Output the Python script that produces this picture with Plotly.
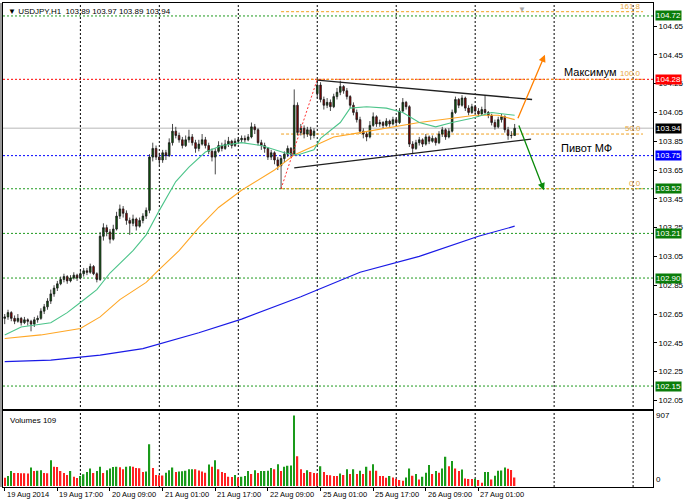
import plotly.graph_objects as go
import pandas as pd

# ---------------- data ----------------
symbol = "USDJPY,H1"

open_ = [102.62,102.63,102.66,102.62,102.60,102.62,102.59,102.61,102.60,102.58,
         102.61,102.62,102.67,102.70,102.74,102.79,102.83,102.86,102.89,102.91,
         102.88,102.90,102.92,102.90,102.93,102.95,102.94,102.98,102.93,102.89,
         103.19,103.25,103.22,103.17,103.24,103.33,103.38,103.35,103.30,103.28,
         103.31,103.26,103.30,103.33,103.37,103.74,103.80,103.74,103.72,103.77,
         103.75,103.84,103.92,103.89,103.86,103.82,103.86,103.88,103.84,103.80,
         103.83,103.86,103.82,103.78,103.74,103.78,103.82,103.80,103.83,103.85,
         103.82,103.85,103.86,103.87,103.86,103.88,103.95,103.93,103.84,103.82,
         103.80,103.74,103.77,103.72,103.68,103.73,103.76,103.80,103.76,104.10,
         103.91,103.94,103.90,103.93,103.89,104.18,104.24,104.14,104.10,104.12,
         104.09,104.16,104.19,104.23,104.20,104.16,104.10,104.05,104.00,103.92,
         103.90,103.88,103.96,104.02,103.97,103.98,103.96,103.99,103.97,104.00,
         103.98,104.06,104.12,104.09,103.83,103.80,103.84,103.86,103.83,103.88,
         103.85,103.87,103.84,103.90,103.93,103.88,103.92,104.05,104.14,104.10,
         104.15,104.08,104.05,104.09,104.06,104.04,104.07,104.05,104.03,103.98,
         103.95,104.00,104.02,103.93,103.89,103.89]
high = [102.65,102.68,102.67,102.64,102.65,102.63,102.63,102.62,102.61,102.63,
        102.64,102.69,102.72,102.76,102.82,102.85,102.88,102.91,102.93,102.92,
        102.92,102.94,102.93,102.95,102.97,102.97,103.00,102.99,102.94,103.22,
        103.28,103.27,103.24,103.27,103.36,103.41,103.40,103.37,103.32,103.34,
        103.32,103.32,103.35,103.39,103.76,103.84,103.82,103.77,103.79,103.79,
        103.87,103.97,103.95,103.91,103.88,103.89,103.93,103.90,103.86,103.86,
        103.90,103.88,103.84,103.80,103.80,103.85,103.84,103.86,103.88,103.86,
        103.87,103.88,103.89,103.89,103.90,103.98,103.97,103.94,103.86,103.84,
        103.81,103.79,103.78,103.74,103.75,103.78,103.82,103.81,104.21,104.12,
        103.97,103.96,103.95,103.95,103.94,104.28,104.26,104.16,104.15,104.14,
        104.18,104.22,104.27,104.24,104.22,104.17,104.12,104.07,104.02,103.94,
        103.92,103.99,104.05,104.03,104.00,103.99,104.01,104.00,104.02,104.01,
        104.08,104.15,104.13,104.10,103.85,103.86,103.88,103.87,103.90,103.89,
        103.89,103.88,103.92,103.95,103.94,103.94,104.07,104.16,104.15,104.17,
        104.16,104.10,104.11,104.10,104.08,104.09,104.17,104.06,104.04,104.00,
        104.02,104.04,104.03,103.95,103.92,103.97]
low = [102.58,102.61,102.60,102.58,102.59,102.57,102.58,102.57,102.53,102.56,
       102.59,102.61,102.65,102.68,102.72,102.77,102.81,102.85,102.87,102.86,
       102.87,102.89,102.88,102.89,102.91,102.92,102.93,102.92,102.87,102.88,
       103.16,103.19,103.14,103.16,103.23,103.31,103.32,103.27,103.20,103.26,
       103.23,103.25,103.28,103.31,103.35,103.71,103.72,103.68,103.70,103.72,
       103.74,103.82,103.87,103.84,103.80,103.81,103.84,103.82,103.77,103.78,
       103.82,103.80,103.76,103.71,103.62,103.77,103.78,103.79,103.81,103.80,
       103.81,103.83,103.84,103.84,103.85,103.87,103.90,103.82,103.79,103.77,
       103.72,103.72,103.69,103.65,103.52,103.70,103.74,103.74,103.75,103.89,
       103.89,103.87,103.88,103.86,103.87,104.15,104.12,104.07,104.08,104.06,
       104.08,104.14,104.17,104.18,104.14,104.08,104.03,103.98,103.90,103.87,
       103.85,103.87,103.95,103.95,103.95,103.94,103.95,103.95,103.96,103.96,
       103.97,104.05,104.07,103.81,103.76,103.79,103.82,103.81,103.82,103.83,
       103.84,103.82,103.83,103.88,103.86,103.87,103.91,104.04,104.08,104.09,
       104.06,104.03,104.04,104.04,104.02,104.03,104.04,104.01,103.96,103.93,
       103.94,103.98,103.91,103.86,103.87,103.89]
close = [102.63,102.66,102.62,102.60,102.62,102.59,102.61,102.60,102.58,102.61,
         102.62,102.67,102.70,102.74,102.79,102.83,102.86,102.89,102.91,102.88,
         102.90,102.92,102.90,102.93,102.95,102.94,102.98,102.93,102.89,103.19,
         103.25,103.22,103.17,103.24,103.33,103.38,103.35,103.30,103.28,103.31,
         103.26,103.30,103.33,103.37,103.74,103.80,103.74,103.72,103.77,103.75,
         103.84,103.92,103.89,103.86,103.82,103.86,103.88,103.84,103.80,103.83,
         103.86,103.82,103.78,103.74,103.78,103.82,103.80,103.83,103.85,103.82,
         103.85,103.86,103.87,103.86,103.88,103.95,103.93,103.84,103.82,103.80,
         103.74,103.77,103.72,103.68,103.73,103.76,103.80,103.76,104.10,103.91,
         103.94,103.90,103.93,103.89,103.92,104.24,104.14,104.10,104.12,104.09,
         104.16,104.19,104.23,104.20,104.16,104.10,104.05,104.00,103.92,103.90,
         103.88,103.96,104.02,103.97,103.98,103.96,103.99,103.97,104.00,103.98,
         104.06,104.12,104.09,103.83,103.80,103.84,103.86,103.83,103.88,103.85,
         103.87,103.84,103.90,103.93,103.88,103.92,104.05,104.14,104.10,104.15,
         104.08,104.05,104.09,104.06,104.04,104.07,104.05,104.03,103.98,103.95,
         104.00,104.02,103.93,103.89,103.89,103.94]
volume = [106,128,192,166,166,164,164,162,238,192,
          195,204,166,164,332,247,245,192,166,140,
          192,119,102,128,150,179,226,166,192,247,
          166,204,226,245,247,240,217,247,255,247,
          230,228,179,185,537,230,140,138,136,170,
          204,238,179,185,190,196,215,217,215,200,
          185,170,277,247,332,215,179,166,119,117,
          140,110,120,128,192,153,204,166,192,194,
          196,230,215,280,192,247,260,265,907,383,
          217,166,204,179,166,160,255,179,140,138,
          130,128,160,140,217,153,217,153,196,153,
          247,196,281,196,128,128,106,128,110,94,
          77,68,110,226,132,153,85,119,170,269,
          153,192,170,226,375,255,320,226,192,213,
          98,90,90,94,77,43,179,181,85,132,
          196,200,238,222,205,109]

# moving averages, read at a few bars
ma_fast_idx = [0,5,14,19,23,28,32,39,43,47,52,56,61,66,72,78,85,89,94,96,102,105,110,116,121,126,131,136,142,148,155]
ma_fast_val = [102.505,102.56,102.59,102.66,102.73,102.82,102.935,103.09,103.20,103.37,103.57,103.67,103.775,103.82,103.84,
               103.82,103.77,103.755,103.79,103.87,103.98,104.08,104.09,104.08,104.05,103.98,103.95,103.98,104.01,104.05,104.03]
ma_mid_idx = [0,11,23,29,35,43,47,53,59,65,72,78,82,88,94,100,108,116,126,136,143,150,155]
ma_mid_val = [102.48,102.505,102.55,102.63,102.75,102.87,102.96,103.09,103.25,103.39,103.51,103.595,103.65,103.755,103.82,
              103.88,103.91,103.94,103.98,104.01,104.03,104.03,104.00]
ma_slow_idx = [0,14,29,42,59,72,90,108,126,144,155]
ma_slow_val = [102.32,102.33,102.365,102.41,102.52,102.615,102.77,102.94,103.05,103.19,103.26]

# horizontal levels
level_prices = [104.72, 104.28, 103.75, 103.52, 103.21, 102.90, 102.15]
level_colors = ["#1f9a1f", "#ff0000", "#0000ff", "#1f9a1f", "#1f9a1f", "#1f9a1f", "#1f9a1f"]
label_colors = ["#0a7d0a", "#ff0000", "#0000ff", "#0a7d0a", "#0a7d0a", "#0a7d0a", "#0a7d0a"]

# fibonacci
fib_low_bar, fib_low = 84, 103.52
fib_high_bar, fib_high = 95, 104.28
fib_end_bar = 194
fib_levels = [0.0, 50.0, 100.0, 161.8]

# triangle and arrows
tri_upper_x = [95, 160.3]
tri_upper_y = [104.275, 104.14]
tri_lower_x = [88, 160]
tri_lower_y = [103.665, 103.865]
arrow_up_x = [155.8, 164.2]
arrow_up_y = [104.00, 104.45]
arrow_dn_x = [156.1, 163.9]
arrow_dn_y = [103.97, 103.51]
text_max = ("Максимум", 169.4, 104.33)
text_pivot = ("Пивот МФ", 168.5, 103.80)

price_ticks = [102.05, 102.25, 102.45, 102.65, 102.85, 103.05, 103.25, 103.45,
               103.65, 103.85, 104.05, 104.25, 104.45, 104.65]

# bar times (trading hours only)
times = list(pd.date_range("2014-08-19 01:00", "2014-08-22 23:00", freq="h")) + \
        list(pd.date_range("2014-08-25 00:00", "2014-08-27 12:00", freq="h"))

# ---------------- figure ----------------
n = len(close)
idx = list(range(n))
XR = [-0.52, 197.05]
FONT = "Liberation Sans, Arial, sans-serif"

fig = go.Figure()

fig.add_trace(go.Candlestick(
    x=idx, open=open_, high=high, low=low, close=close,
    xaxis="x", yaxis="y", whiskerwidth=0,
    increasing=dict(fillcolor="#0b5a0b", line=dict(color="#1a1a1a", width=0.8)),
    decreasing=dict(fillcolor="#8b0000", line=dict(color="#1a1a1a", width=0.8)),
    showlegend=False, hoverinfo="skip"))

fig.add_trace(go.Scatter(x=ma_slow_idx, y=ma_slow_val, mode="lines",
                         line=dict(color="#1a1ae6", width=1.2), showlegend=False, hoverinfo="skip"))
fig.add_trace(go.Scatter(x=ma_mid_idx, y=ma_mid_val, mode="lines",
                         line=dict(color="#ffa726", width=1.1), showlegend=False, hoverinfo="skip"))
fig.add_trace(go.Scatter(x=ma_fast_idx, y=ma_fast_val, mode="lines",
                         line=dict(color="#4cc48a", width=1.1), showlegend=False, hoverinfo="skip"))

# triangle lines
fig.add_trace(go.Scatter(x=tri_upper_x, y=tri_upper_y, mode="lines",
                         line=dict(color="#202020", width=1.3), showlegend=False, hoverinfo="skip"))
fig.add_trace(go.Scatter(x=tri_lower_x, y=tri_lower_y, mode="lines",
                         line=dict(color="#202020", width=1.3), showlegend=False, hoverinfo="skip"))
# fib base line
fig.add_trace(go.Scatter(x=[fib_low_bar, fib_high_bar], y=[fib_low, fib_high], mode="lines",
                         line=dict(color="#ff3030", width=1, dash="2px,2px"), showlegend=False, hoverinfo="skip"))

# volumes (MT4 colouring: green when volume rises)
vcolors = ["#ff2020"] + ["#1a9a1a" if volume[i] > volume[i - 1] else "#ff2020" for i in range(1, n)]
fig.add_trace(go.Bar(x=idx, y=volume, width=0.42, marker=dict(color=vcolors, line=dict(width=0)),
                     xaxis="x2", yaxis="y2", showlegend=False, hoverinfo="skip"))

shapes = []
# vertical day grid
day_idx = [i for i, t in enumerate(times) if t.hour == 0]
g = day_idx[-1] + 24
while g < XR[1]:
    day_idx.append(g)
    g += 24
for d in day_idx:
    shapes.append(dict(type="line", xref="x", yref="paper", x0=d, x1=d, y0=0, y1=1,
                       line=dict(color="#000000", width=1, dash="2px,2px"), layer="below"))

# fibonacci levels
for lv in fib_levels:
    p = fib_low + lv / 100.0 * (fib_high - fib_low)
    shapes.append(dict(type="line", xref="x", yref="y", x0=fib_low_bar, x1=fib_end_bar, y0=p, y1=p,
                       line=dict(color="#f0a020", width=1, dash="3px,2px"), layer="below"))

# bid line
shapes.append(dict(type="line", xref="paper", yref="y", x0=0, x1=1, y0=close[-1], y1=close[-1],
                   line=dict(color="#cfcfcf", width=1.6), layer="below"))

# horizontal levels
for p, c in zip(level_prices, level_colors):
    shapes.append(dict(type="line", xref="paper", yref="y", x0=0, x1=1, y0=p, y1=p,
                       line=dict(color=c, width=1, dash="2px,2px"), layer="below"))

# left window frame
shapes.append(dict(type="rect", xref="paper", yref="paper", x0=-3 / 650, x1=-1 / 650, y0=0, y1=1,
                   fillcolor="#9a9a9a", line=dict(width=0)))

ann = []
ann.append(dict(xref="paper", yref="paper", x=0, y=1, xanchor="left", yanchor="top", xshift=3, yshift=-2,
                text=f"▼ {symbol}  {open_[-1]:.2f} {high[-1]:.2f} {low[-1]:.2f} {close[-1]:.2f}",
                showarrow=False, font=dict(family=FONT, size=8, color="#000000")))

# price labels on axis
for p, c in zip(level_prices, label_colors):
    ann.append(dict(xref="paper", yref="y", x=1, y=p, xanchor="left", yanchor="middle", xshift=2,
                    text=f"{p:.2f}", showarrow=False, bgcolor=c, borderpad=0,
                    font=dict(family=FONT, size=8, color="#ffffff")))
ann.append(dict(xref="paper", yref="y", x=1, y=close[-1], xanchor="left", yanchor="middle", xshift=2,
                text=f"{close[-1]:.2f}", showarrow=False, bgcolor="#000000", borderpad=0,
                font=dict(family=FONT, size=8, color="#ffffff")))

# fib level labels
for lv in fib_levels:
    p = fib_low + lv / 100.0 * (fib_high - fib_low)
    ann.append(dict(xref="x", yref="y", x=fib_end_bar, y=p, xanchor="right", yanchor="bottom", yshift=-1,
                    text=f"{lv:.1f}", showarrow=False, font=dict(family=FONT, size=8, color="#e8a840")))

# arrows
ann.append(dict(xref="x", yref="y", axref="x", ayref="y", x=arrow_up_x[1], y=arrow_up_y[1],
                ax=arrow_up_x[0], ay=arrow_up_y[0], text="", showarrow=True, arrowhead=2,
                arrowsize=1.1, arrowwidth=1.3, arrowcolor="#ff8000"))
ann.append(dict(xref="x", yref="y", axref="x", ayref="y", x=arrow_dn_x[1], y=arrow_dn_y[1],
                ax=arrow_dn_x[0], ay=arrow_dn_y[0], text="", showarrow=True, arrowhead=2,
                arrowsize=1.1, arrowwidth=1.3, arrowcolor="#0a8a0a"))

for t, xx, yy in (text_max, text_pivot):
    ann.append(dict(xref="x", yref="y", x=xx, y=yy, xanchor="left", yanchor="middle", text=t,
                    showarrow=False, font=dict(family=FONT, size=11, color="#000000")))

# chart shift marker
ann.append(dict(xref="paper", yref="paper", x=(522 - 3) / 650, y=1, xanchor="center", yanchor="top",
                text="▼", showarrow=False, font=dict(family=FONT, size=8, color="#a8a8a8")))

# volume labels
vmax = max(volume)
ann.append(dict(xref="paper", yref="y2 domain", x=0, y=1, xanchor="left", yanchor="top", xshift=5, yshift=-3,
                text=f"Volumes {volume[-1]}", showarrow=False, font=dict(family=FONT, size=8, color="#000000")))
ann.append(dict(xref="paper", yref="y2", x=1, y=vmax, xanchor="left", yanchor="middle", xshift=1,
                text=f"{vmax}", showarrow=False, font=dict(family=FONT, size=8, color="#000000")))
ann.append(dict(xref="paper", yref="y2", x=1, y=0, xanchor="left", yanchor="bottom", xshift=1,
                text="0", showarrow=False, font=dict(family=FONT, size=8, color="#000000")))

# time labels
tick_bars = list(range(0, n, 16))
for k, b in enumerate(tick_bars):
    t = times[b]
    lab = t.strftime("%d %b %Y") if k == 0 else t.strftime("%d %b %H:%M")
    ann.append(dict(xref="x2", yref="paper", x=b, y=0, xanchor="left", yanchor="top", xshift=0, yshift=-1,
                    text=lab, showarrow=False, font=dict(family=FONT, size=7.5, color="#000000")))

axis_common = dict(showgrid=False, zeroline=False, showline=True, mirror=True, linecolor="#000000", linewidth=1)

fig.update_layout(
    width=688, height=503,
    margin=dict(l=3, r=35, t=3, b=16),
    paper_bgcolor="#ffffff", plot_bgcolor="#ffffff",
    showlegend=False,
    xaxis=dict(domain=[0, 1], range=XR, anchor="y", showticklabels=False, ticks="",
               rangeslider=dict(visible=False), **axis_common),
    yaxis=dict(domain=[0.161, 1], range=[101.99, 104.81], anchor="x", side="right",
               tickvals=price_ticks, ticktext=[f"{v:.2f}" for v in price_ticks],
               ticks="outside", ticklen=3, tickcolor="#000000",
               tickfont=dict(family=FONT, size=8, color="#000000"), **axis_common),
    xaxis2=dict(domain=[0, 1], range=XR, anchor="y2", tickvals=tick_bars, showticklabels=False,
                ticks="outside", ticklen=3, tickcolor="#000000", **axis_common),
    yaxis2=dict(domain=[0, 0.158], range=[-13, 971], anchor="x2", side="right",
                showticklabels=False, ticks="", **axis_common),
    shapes=shapes, annotations=ann,
)

fig.write_html("out.html", config={"displayModeBar": False},
               post_script="document.body.style.margin='0px';document.body.style.padding='0px';")
